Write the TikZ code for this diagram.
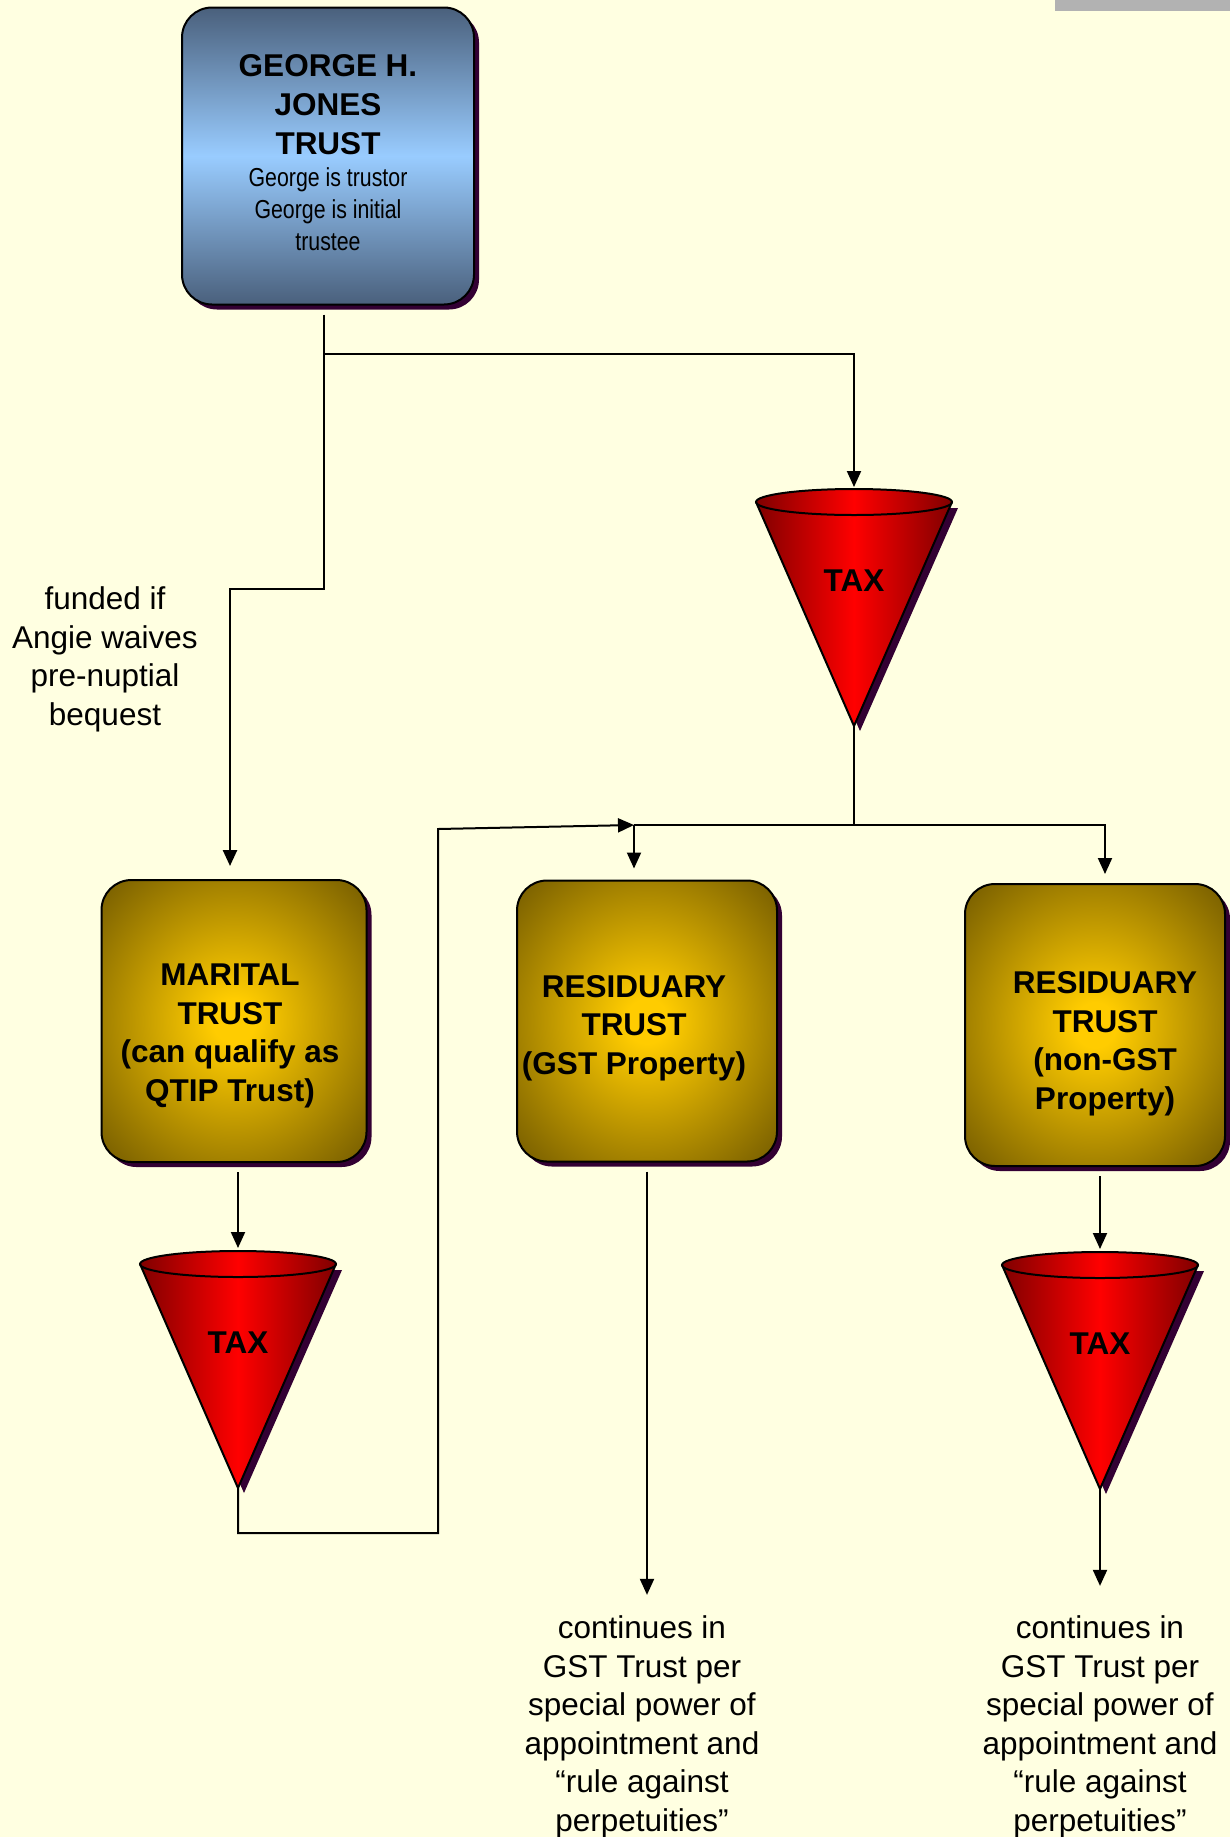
\documentclass[tikz,border=0pt]{standalone}
\usepackage{fontspec}
\setmainfont{Liberation Sans}
\newfontfamily\narrowfont[FakeStretch=0.82]{Liberation Sans}
\newcommand\subfont{\narrowfont\mdseries\fontsize{26}{32}\selectfont}
\usetikzlibrary{arrows.meta,shadows}

\definecolor{paper}{HTML}{FFFFE1}
\definecolor{barc}{HTML}{B2B2B2}
\definecolor{slate}{HTML}{4A607C}
\definecolor{sky}{HTML}{99CCFF}
\definecolor{trustgold}{HTML}{FFCC00}
\definecolor{trustolive}{HTML}{7A6000}
\definecolor{conedark}{HTML}{800000}
\definecolor{shadowc}{HTML}{330033}

\pgfdeclareradialshading{goldglow}{\pgfpoint{0bp}{0bp}}{color(0bp)=(trustgold); color(4bp)=(trustgold); color(34bp)=(trustolive); color(50bp)=(trustolive)}

\tikzset{
  boxshadow/.style={drop shadow={shadow xshift=5pt, shadow yshift=-5pt, fill=shadowc, opacity=1}},
  georgebox/.style={draw=black, line width=2pt, rounded corners=30pt, top color=slate, bottom color=slate, middle color=sky,
    minimum width=292pt, minimum height=297pt, boxshadow},
  trustbox/.style={draw=black, line width=2pt, rounded corners=30pt, shade, shading=goldglow, boxshadow},
  boxtext/.style={align=center, inner sep=0pt, font=\fontsize{31.5}{38.5}\selectfont\bfseries},
  note/.style={align=center, inner sep=0pt, font=\fontsize{31.5}{38.5}\selectfont},
  taxlabel/.style={font=\fontsize{31.5}{38.5}\selectfont\bfseries},
  link/.style={line width=2pt, -{Triangle[length=16pt,width=14pt]}},
  plain/.style={line width=2pt},
  funnel/.pic={
    \fill[shadowc] (-92,6) -- (6,229) -- (104,6) -- cycle;
    \shade[left color=conedark, right color=conedark, middle color=red] (-98,0) -- (0,224) -- (98,0) -- cycle;
    \shade[left color=conedark, right color=conedark, middle color=red, draw=black, line width=2pt]
      (0,0) ellipse [x radius=98pt, y radius=13pt];
    \draw[line width=2pt, line join=round] (-98,0) -- (0,224) -- (98,0);
    \node[taxlabel] (-label) at (0,79) {TAX};
    \coordinate (-top) at (0,-13);
    \coordinate (-tip) at (0,224);
  }
}

\begin{document}
\begin{tikzpicture}[x=1pt, y=-1pt]
\fill[paper] (0,0) rectangle (1230,1837);
\useasboundingbox (0,0) rectangle (1230,1837);
\fill[barc] (1055,0) rectangle (1230,11);

% trusts
\node[georgebox] (george) at (328,156) {};
\node[boxtext, font=\fontsize{31.5}{39}\selectfont\bfseries] (georgetext) at (328,152.5) {GEORGE H.\\JONES\\TRUST\\[-7pt]
  {\subfont George is trustor}\\[-7pt]
  {\subfont George is initial}\\[-7pt]
  {\subfont trustee}};
\node[trustbox, minimum width=265pt, minimum height=282pt] (marital) at (234,1021) {};
\node[boxtext] (maritaltext) at (230,1036) {MARITAL\\TRUST\\(can qualify as\\QTIP Trust)};
\node[trustbox, minimum width=260pt, minimum height=281pt] (gst) at (647,1021) {};
\node[boxtext] (gsttext) at (634,1028) {RESIDUARY\\TRUST\\(GST Property)};
\node[trustbox, minimum width=260pt, minimum height=282pt] (nongst) at (1095,1025) {};
\node[boxtext] (nongsttext) at (1105,1044) {RESIDUARY\\TRUST\\(non-GST\\Property)};

% tax cones
\pic (taxtop) at (854,502) {funnel};
\pic (taxmar) at (238,1264) {funnel};
\pic (taxres) at (1100,1265) {funnel};

% side texts
\node[note] (funded) at (105,659.5) {funded if\\Angie waives\\pre-nuptial\\bequest};
\node[note] (gstnote) at (642,1727) {continues in\\GST Trust per\\special power of\\appointment and\\“rule against\\perpetuities”};
\node[note] (resnote) at (1100,1727) {continues in\\GST Trust per\\special power of\\appointment and\\“rule against\\perpetuities”};

% connectors
\coordinate (fork) at (324,354);
\coordinate (bend) at (324,589);
\coordinate (busL) at (634,825);
\coordinate (busR) at (1105,825);
\coordinate (loopB) at (438,1533);
\coordinate (loopT) at (438,829);

\draw[link, line width=2.5pt, shorten <=9pt, shorten >=13pt] (george.south -| bend) -- (bend) -| (maritaltext |- marital.north);
\draw[link, shorten >=2pt] (fork) -| (taxtop-top);
\draw[plain] (taxtop-tip) -- (taxtop-tip |- busL);
\draw[link, shorten >=11pt] (busL) -- (busL |- gst.north);
\draw[link, shorten >=9pt] (busL) -| (busR |- nongst.north);
\draw[link, shorten <=9pt, shorten >=3pt] (marital.south -| taxmar-top) -- (taxmar-top);
\draw[link] (taxmar-tip) |- (loopB) -- (loopT) -- (busL);
\draw[link, shorten <=9pt, shorten >=21pt] (gst.south) -- (gst.south |- gstnote.north);
\draw[link, shorten <=9pt, shorten >=3pt] (nongst.south -| taxres-top) -- (taxres-top);
\draw[link, shorten >=30pt] (taxres-tip) -- (taxres-tip |- resnote.north);
\end{tikzpicture}
\end{document}
